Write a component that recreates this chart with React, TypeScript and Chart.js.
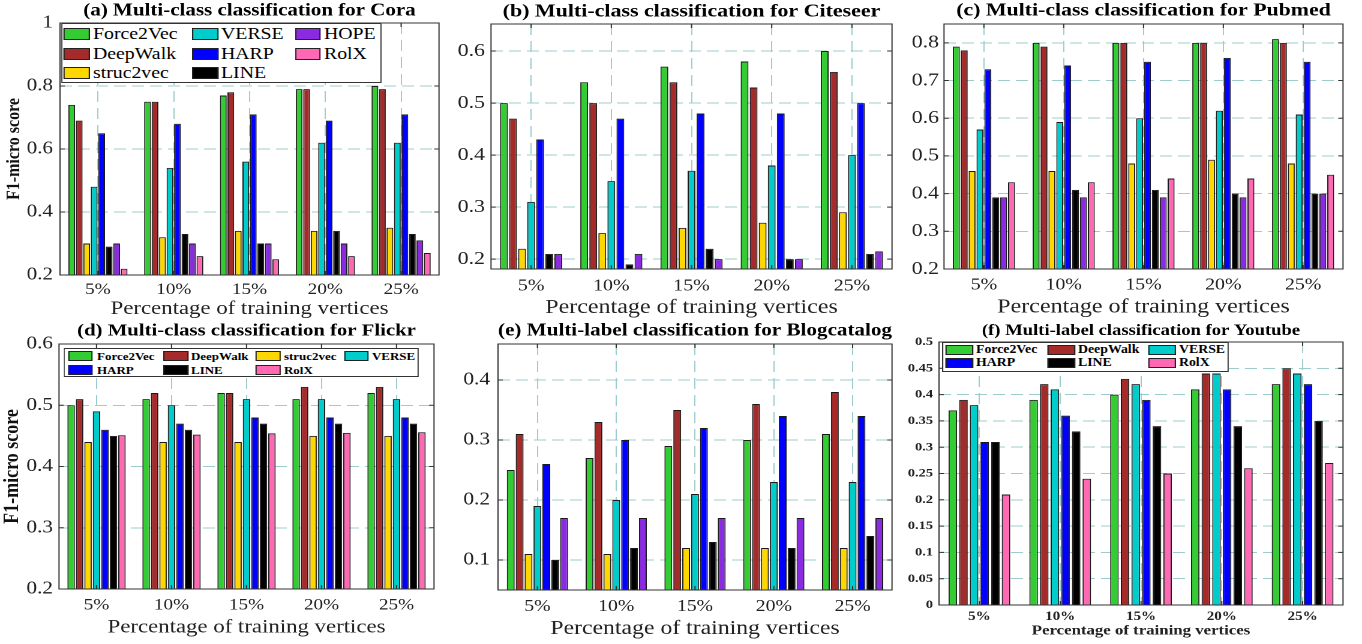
import React, { useEffect, useRef } from "react";
import { Chart, registerables } from "chart.js";

Chart.register(...registerables);

// The reference figure is stretched horizontally; we draw in a narrower
// coordinate system and stretch the whole figure with CSS.
const S = 1.2;
const SERIF = "'Liberation Serif', 'Times New Roman', Times, serif";
const GRID = "#9ccccc";
const FRAME = "#333333";

const percentLabels = ["5%", "10%", "15%", "20%", "25%"];
const xAxisTitle = "Percentage of training vertices";
const yAxisTitle = "F1-micro score";

const methodColors: Record<string, string> = {
  Force2Vec: "#33cc33",
  DeepWalk: "#a52a2a",
  struc2vec: "#ffd700",
  VERSE: "#00cccc",
  HARP: "#0000ff",
  LINE: "#000000",
  HOPE: "#8a2be2",
  RolX: "#ff69b4",
};

// (a) Cora
const coraMethods = ["Force2Vec", "DeepWalk", "struc2vec", "VERSE", "HARP", "LINE", "HOPE", "RolX"];
const coraScores = [
  [0.74, 0.75, 0.77, 0.79, 0.8],
  [0.69, 0.75, 0.78, 0.79, 0.79],
  [0.3, 0.32, 0.34, 0.34, 0.35],
  [0.48, 0.54, 0.56, 0.62, 0.62],
  [0.65, 0.68, 0.71, 0.69, 0.71],
  [0.29, 0.33, 0.3, 0.34, 0.33],
  [0.3, 0.3, 0.3, 0.3, 0.31],
  [0.22, 0.26, 0.25, 0.26, 0.27],
];
const coraTicks = [0.2, 0.4, 0.6, 0.8, 1];
const coraTickLabels = ["0.2", "0.4", "0.6", "0.8", "1"];

// (b) Citeseer
const citeseerMethods = ["Force2Vec", "DeepWalk", "struc2vec", "VERSE", "HARP", "LINE", "HOPE"];
const citeseerScores = [
  [0.5, 0.54, 0.57, 0.58, 0.6],
  [0.47, 0.5, 0.54, 0.53, 0.56],
  [0.22, 0.25, 0.26, 0.27, 0.29],
  [0.31, 0.35, 0.37, 0.38, 0.4],
  [0.43, 0.47, 0.48, 0.48, 0.5],
  [0.21, 0.19, 0.22, 0.2, 0.21],
  [0.21, 0.21, 0.2, 0.2, 0.215],
];
const citeseerTicks = [0.2, 0.3, 0.4, 0.5, 0.6];
const citeseerTickLabels = ["0.2", "0.3", "0.4", "0.5", "0.6"];

// (c) Pubmed
const pubmedMethods = ["Force2Vec", "DeepWalk", "struc2vec", "VERSE", "HARP", "LINE", "HOPE", "RolX"];
const pubmedScores = [
  [0.79, 0.8, 0.8, 0.8, 0.81],
  [0.78, 0.79, 0.8, 0.8, 0.8],
  [0.46, 0.46, 0.48, 0.49, 0.48],
  [0.57, 0.59, 0.6, 0.62, 0.61],
  [0.73, 0.74, 0.75, 0.76, 0.75],
  [0.39, 0.41, 0.41, 0.4, 0.4],
  [0.39, 0.39, 0.39, 0.39, 0.4],
  [0.43, 0.43, 0.44, 0.44, 0.45],
];
const pubmedTicks = [0.2, 0.3, 0.4, 0.5, 0.6, 0.7, 0.8];
const pubmedTickLabels = ["0.2", "0.3", "0.4", "0.5", "0.6", "0.7", "0.8"];

// (d) Flickr
const flickrMethods = ["Force2Vec", "DeepWalk", "struc2vec", "VERSE", "HARP", "LINE", "RolX"];
const flickrScores = [
  [0.5, 0.51, 0.52, 0.51, 0.52],
  [0.51, 0.52, 0.52, 0.53, 0.53],
  [0.44, 0.44, 0.44, 0.45, 0.45],
  [0.49, 0.5, 0.51, 0.51, 0.51],
  [0.46, 0.47, 0.48, 0.48, 0.48],
  [0.45, 0.46, 0.47, 0.47, 0.47],
  [0.451, 0.452, 0.454, 0.455, 0.456],
];
const flickrTicks = [0.2, 0.3, 0.4, 0.5, 0.6];
const flickrTickLabels = ["0.2", "0.3", "0.4", "0.5", "0.6"];

// (e) Blogcatalog
const blogMethods = ["Force2Vec", "DeepWalk", "struc2vec", "VERSE", "HARP", "LINE", "HOPE"];
const blogScores = [
  [0.25, 0.27, 0.29, 0.3, 0.31],
  [0.31, 0.33, 0.35, 0.36, 0.38],
  [0.11, 0.11, 0.12, 0.12, 0.12],
  [0.19, 0.2, 0.21, 0.23, 0.23],
  [0.26, 0.3, 0.32, 0.34, 0.34],
  [0.1, 0.12, 0.13, 0.12, 0.14],
  [0.17, 0.17, 0.17, 0.17, 0.17],
];
const blogTicks = [0.1, 0.2, 0.3, 0.4];
const blogTickLabels = ["0.1", "0.2", "0.3", "0.4"];

// (f) Youtube
const youtubeMethods = ["Force2Vec", "DeepWalk", "VERSE", "HARP", "LINE", "RolX"];
const youtubeScores = [
  [0.37, 0.39, 0.4, 0.41, 0.42],
  [0.39, 0.42, 0.43, 0.44, 0.45],
  [0.38, 0.41, 0.42, 0.44, 0.44],
  [0.31, 0.36, 0.39, 0.41, 0.42],
  [0.31, 0.33, 0.34, 0.34, 0.35],
  [0.21, 0.24, 0.25, 0.26, 0.27],
];
const youtubeTicks = [0, 0.05, 0.1, 0.15, 0.2, 0.25, 0.3, 0.35, 0.4, 0.45, 0.5];
const youtubeTickLabels = ["0", "0.05", "0.1", "0.15", "0.2", "0.25", "0.3", "0.35", "0.4", "0.45", "0.5"];

type PanelSpec = {
  title: string;
  methods: string[];
  scores: number[][];
  ticks: number[];
  tickLabels: string[];
  yMin: number;
  yMax: number;
  plotL: number;
  plotR: number;
  plotT: number;
  plotB: number;
  titleY: number;
  titleSize: number;
  yTickSize: number;
  yTickGap: number;
  xTickY: number;
  xTickSize: number;
  xTitleY: number;
  xTitleSize: number;
  bold: boolean;
  barPct: number;
  yTitle?: { x: number; size: number };
};

const panels: PanelSpec[] = [
  {
    title: "(a) Multi-class classification for Cora",
    methods: coraMethods, scores: coraScores, ticks: coraTicks, tickLabels: coraTickLabels,
    yMin: 0.2, yMax: 1,
    plotL: 60, plotR: 439, plotT: 23, plotB: 275,
    titleY: 11, titleSize: 17.5, yTickSize: 17.5, yTickGap: 7,
    xTickY: 290, xTickSize: 16, xTitleY: 309, xTitleSize: 19,
    bold: false, barPct: 0.9, yTitle: { x: 14, size: 16 },
  },
  {
    title: "(b) Multi-class classification for Citeseer",
    methods: citeseerMethods, scores: citeseerScores, ticks: citeseerTicks, tickLabels: citeseerTickLabels,
    yMin: 0.181, yMax: 0.652,
    plotL: 491, plotR: 892, plotT: 24, plotB: 269,
    titleY: 11.7, titleSize: 18.3, yTickSize: 18.3, yTickGap: 6,
    xTickY: 286, xTickSize: 16.6, xTitleY: 307.5, xTitleSize: 20,
    bold: false, barPct: 0.86,
  },
  {
    title: "(c) Multi-class classification for Pubmed",
    methods: pubmedMethods, scores: pubmedScores, ticks: pubmedTicks, tickLabels: pubmedTickLabels,
    yMin: 0.2, yMax: 0.85,
    plotL: 944, plotR: 1343, plotT: 24, plotB: 269,
    titleY: 10.7, titleSize: 18.2, yTickSize: 18.2, yTickGap: 5,
    xTickY: 285, xTickSize: 16.6, xTitleY: 307, xTitleSize: 20,
    bold: false, barPct: 0.88,
  },
  {
    title: "(d) Multi-class classification for Flickr",
    methods: flickrMethods, scores: flickrScores, ticks: flickrTicks, tickLabels: flickrTickLabels,
    yMin: 0.2, yMax: 0.6,
    plotL: 59, plotR: 434, plotT: 344, plotB: 589,
    titleY: 331, titleSize: 17.3, yTickSize: 17.8, yTickGap: 6,
    xTickY: 605.5, xTickSize: 16, xTitleY: 627.5, xTitleSize: 19,
    bold: false, barPct: 0.88, yTitle: { x: 12.5, size: 18 },
  },
  {
    title: "(e) Multi-label classification for Blogcatalog",
    methods: blogMethods, scores: blogScores, ticks: blogTicks, tickLabels: blogTickLabels,
    yMin: 0.05, yMax: 0.46,
    plotL: 498, plotR: 892, plotT: 344, plotB: 590,
    titleY: 330.7, titleSize: 18, yTickSize: 17.8, yTickGap: 8,
    xTickY: 606.7, xTickSize: 16.4, xTitleY: 629, xTitleSize: 19.8,
    bold: false, barPct: 0.88,
  },
  {
    title: "(f) Multi-label classification for Youtube",
    methods: youtubeMethods, scores: youtubeScores, ticks: youtubeTicks, tickLabels: youtubeTickLabels,
    yMin: 0, yMax: 0.5,
    plotL: 939, plotR: 1343, plotT: 342, plotB: 605,
    titleY: 331, titleSize: 15.5, yTickSize: 12, yTickGap: 6,
    xTickY: 617, xTickSize: 12.5, xTitleY: 631, xTitleSize: 14,
    bold: true, barPct: 0.8,
  },
];

type LegendSpec = {
  methods: string[];
  box: { l: number; r: number; t: number; b: number };
  cols: { sx: number; tx: number }[];
  rows: number[];
  columnMajor: boolean;
  swatchW: number;
  swatchH: number;
  fontSize: number;
  bold: boolean;
};

const legends: LegendSpec[] = [
  {
    methods: coraMethods,
    box: { l: 61, r: 382, t: 23, b: 83 },
    cols: [{ sx: 64, tx: 93 }, { sx: 192, tx: 221 }, { sx: 295, tx: 324 }],
    rows: [33.5, 53.5, 72.5],
    columnMajor: true, swatchW: 26, swatchH: 12, fontSize: 16.5, bold: false,
  },
  {
    methods: flickrMethods,
    box: { l: 64, r: 419, t: 348, b: 377 },
    cols: [{ sx: 68, tx: 97 }, { sx: 163, tx: 191 }, { sx: 256, tx: 284 }, { sx: 344, tx: 372 }],
    rows: [356, 370],
    columnMajor: false, swatchW: 25, swatchH: 10, fontSize: 10.8, bold: true,
  },
  {
    methods: youtubeMethods,
    box: { l: 942, r: 1229, t: 342, b: 372 },
    cols: [{ sx: 945, tx: 976 }, { sx: 1047, tx: 1078 }, { sx: 1148, tx: 1179 }],
    rows: [350, 363],
    columnMajor: false, swatchW: 28, swatchH: 10, fontSize: 11.5, bold: true,
  },
];

const framePlugin = {
  id: "matlabFrame",
  afterDatasetsDraw(chart: any) {
    const { ctx, chartArea: a } = chart;
    const xs = chart.scales.x;
    const ys = chart.scales.y;
    ctx.save();
    ctx.strokeStyle = FRAME;
    ctx.lineWidth = 1;
    ctx.strokeRect(a.left, a.top, a.right - a.left, a.bottom - a.top);
    ctx.beginPath();
    ys.ticks.forEach((t: any) => {
      const py = ys.getPixelForValue(t.value);
      ctx.moveTo(a.left, py);
      ctx.lineTo(a.left + 4, py);
      ctx.moveTo(a.right, py);
      ctx.lineTo(a.right - 4, py);
    });
    xs.ticks.forEach((_t: any, i: number) => {
      const px = xs.getPixelForTick(i);
      ctx.moveTo(px, a.bottom);
      ctx.lineTo(px, a.bottom - 4);
      ctx.moveTo(px, a.top);
      ctx.lineTo(px, a.top + 4);
    });
    ctx.stroke();
    ctx.restore();
  },
};

function geometry(p: PanelSpec) {
  const tLH = p.titleSize * 1.2;
  const ct = Math.floor(p.titleY - tLH / 2);
  const titlePadTop = p.titleY - tLH / 2 - ct;
  const titlePadBottom = Math.max(0, p.plotT - ct - titlePadTop - tLH);
  const xLH = p.xTitleSize * 1.2;
  const ch = Math.ceil(p.xTitleY + xLH / 2 - ct) + 1;
  const xAxisH = ch - (p.plotB - ct);
  const xTitlePadBottom = ch - (p.xTitleY - ct) - xLH / 2;
  const xTickPad = p.xTickY - p.plotB - 0.6 * p.xTickSize;
  const pl = p.plotL / S;
  const pr = p.plotR / S;
  let cl: number;
  let yTitlePadTop = 0;
  if (p.yTitle) {
    const yLH = p.yTitle.size * 1.2;
    cl = Math.floor(p.yTitle.x / S - yLH / 2);
    yTitlePadTop = p.yTitle.x / S - yLH / 2 - cl;
  } else {
    cl = Math.floor(pl - 46);
  }
  const yAxisW = pl - cl;
  const cw = Math.ceil(pr + 4 - cl);
  const padRight = cw - (pr - cl);
  return { ct, ch, cl, cw, titlePadTop, titlePadBottom, xAxisH, xTitlePadBottom, xTickPad, yAxisW, yTitlePadTop, padRight, yTickPad: p.yTickGap / S };
}

function Panel({ spec }: { spec: PanelSpec }) {
  const ref = useRef<HTMLCanvasElement>(null);
  const g = geometry(spec);
  useEffect(() => {
    const canvas = ref.current;
    if (!canvas) return;
    const weight = spec.bold ? "bold" : "normal";
    const chart = new Chart(canvas, {
      type: "bar",
      data: {
        labels: percentLabels,
        datasets: spec.methods.map((m, i) => ({
          label: m,
          data: spec.scores[i],
          backgroundColor: methodColors[m],
          borderColor: "#1a1a1a",
          borderWidth: 1,
          categoryPercentage: 0.79,
          barPercentage: spec.barPct,
        })),
      },
      options: {
        animation: false,
        responsive: false,
        devicePixelRatio: 2,
        events: [],
        layout: { padding: { left: 0, top: 0, bottom: 0, right: g.padRight } },
        plugins: {
          legend: { display: false },
          tooltip: { enabled: false },
          title: {
            display: true,
            text: spec.title,
            fullSize: false,
            color: "#000",
            font: { family: SERIF, size: spec.titleSize, weight: "bold", lineHeight: 1.2 },
            padding: { top: g.titlePadTop, bottom: g.titlePadBottom },
          },
        },
        scales: {
          x: {
            type: "category",
            offset: true,
            grid: { offset: false, color: GRID, lineWidth: 1, drawTicks: false },
            border: { display: false, dash: [11, 6] },
            ticks: {
              color: "#222",
              padding: g.xTickPad,
              maxRotation: 0,
              autoSkip: false,
              font: { family: SERIF, size: spec.xTickSize, weight, lineHeight: 1.2 },
            },
            title: {
              display: true,
              text: xAxisTitle,
              color: "#222",
              font: { family: SERIF, size: spec.xTitleSize, weight, lineHeight: 1.2 },
              padding: { top: 0, bottom: g.xTitlePadBottom },
            },
            afterFit: (s: any) => {
              s.height = g.xAxisH;
            },
          },
          y: {
            type: "linear",
            min: spec.yMin,
            max: spec.yMax,
            grid: { color: GRID, lineWidth: 1, drawTicks: false },
            border: { display: false, dash: [10, 5] },
            afterBuildTicks: (s: any) => {
              s.ticks = spec.ticks.map((v) => ({ value: v }));
            },
            ticks: {
              color: "#222",
              padding: g.yTickPad,
              font: { family: SERIF, size: spec.yTickSize, weight, lineHeight: 1.2 },
              callback: (_v: any, i: number) => spec.tickLabels[i],
            },
            title: spec.yTitle
              ? {
                  display: true,
                  text: yAxisTitle,
                  color: "#111",
                  font: { family: SERIF, size: spec.yTitle.size, weight: "bold", lineHeight: 1.2 },
                  padding: { top: g.yTitlePadTop, bottom: 0 },
                }
              : { display: false },
            afterFit: (s: any) => {
              s.width = g.yAxisW;
            },
          },
        },
      } as any,
      plugins: [framePlugin],
    });
    return () => chart.destroy();
  }, []);
  return (
    <canvas
      ref={ref}
      width={g.cw}
      height={g.ch}
      style={{ position: "absolute", left: g.cl, top: g.ct, width: g.cw, height: g.ch }}
    />
  );
}

function Legend({ spec }: { spec: LegendSpec }) {
  const { box } = spec;
  const lh = spec.fontSize * 1.2;
  const nRows = spec.rows.length;
  const nCols = spec.cols.length;
  return (
    <div
      style={{
        position: "absolute",
        left: box.l / S,
        top: box.t,
        width: (box.r - box.l) / S,
        height: box.b - box.t,
        border: "1px solid #333",
        background: "#fff",
        boxSizing: "border-box",
      }}
    >
      {spec.methods.map((m, i) => {
        const col = spec.columnMajor ? Math.floor(i / nRows) : i % nCols;
        const row = spec.columnMajor ? i % nRows : Math.floor(i / nCols);
        const c = spec.cols[col];
        const y = spec.rows[row] - box.t - 1;
        return (
          <React.Fragment key={m}>
            <div
              style={{
                position: "absolute",
                left: (c.sx - box.l) / S - 1,
                top: y - spec.swatchH / 2,
                width: spec.swatchW / S,
                height: spec.swatchH,
                background: methodColors[m],
                border: "1px solid #222",
                boxSizing: "border-box",
              }}
            />
            <div
              style={{
                position: "absolute",
                left: (c.tx - box.l) / S - 1,
                top: y - lh / 2,
                height: lh,
                lineHeight: `${lh}px`,
                fontFamily: SERIF,
                fontSize: spec.fontSize,
                fontWeight: spec.bold ? "bold" : "normal",
                color: "#000",
                whiteSpace: "nowrap",
              }}
            >
              {m}
            </div>
          </React.Fragment>
        );
      })}
    </div>
  );
}

export default function App() {
  return (
    <div
      style={{
        position: "absolute",
        left: 0,
        top: 0,
        width: 1362 / S,
        height: 644,
        background: "#fff",
        transform: `scaleX(${S})`,
        transformOrigin: "0 0",
        overflow: "visible",
      }}
    >
      {panels.map((p) => (
        <Panel key={p.title} spec={p} />
      ))}
      {legends.map((l, i) => (
        <Legend key={i} spec={l} />
      ))}
    </div>
  );
}
